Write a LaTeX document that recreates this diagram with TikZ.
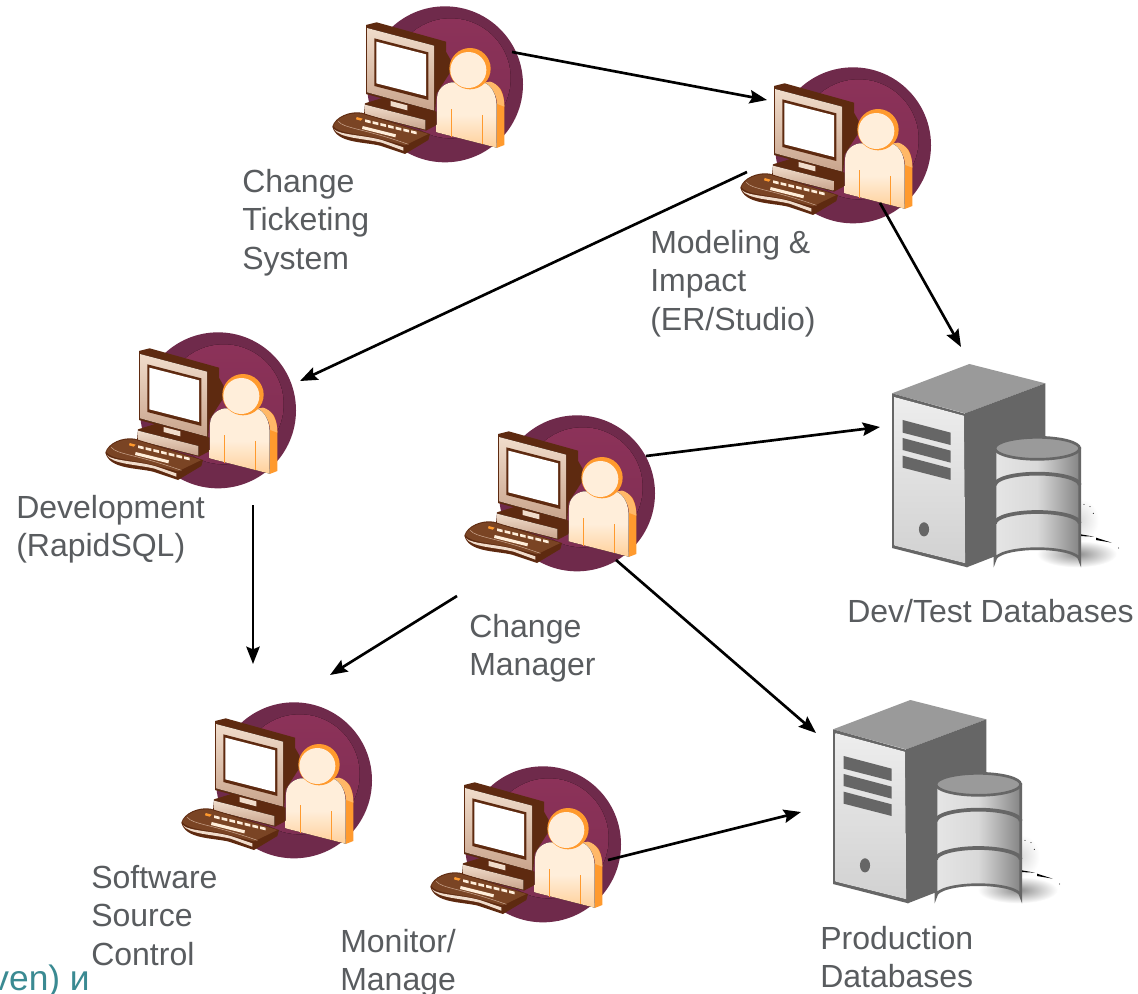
\documentclass[tikz,border=0pt]{standalone}
\usepackage{fontspec}
\setmainfont{Liberation Sans}
\usetikzlibrary{arrows.meta}
\definecolor{plumD}{HTML}{6F2A4B}
\definecolor{plumL}{HTML}{8C3259}
\definecolor{brownD}{HTML}{5E2A10}
\definecolor{brownM}{HTML}{7A4424}
\definecolor{tanL}{HTML}{F0DCCB}
\definecolor{tanM}{HTML}{C9A48C}
\definecolor{orgD}{HTML}{FF9A2E}
\definecolor{orgL}{HTML}{FFB868}
\definecolor{creamA}{HTML}{FFEEDA}
\definecolor{creamB}{HTML}{FFD09A}
\definecolor{txtgray}{HTML}{595C5F}
\definecolor{tealt}{HTML}{3A8A92}
\definecolor{srvD}{HTML}{666666}
\definecolor{srvM}{HTML}{9A9A9A}
\tikzset{
  lbl/.style={anchor=north west,inner sep=0pt,align=left,text=txtgray,font=\fontsize{24}{28.9}\selectfont},
  conn/.style={line width=2pt,-{Stealth[length=13pt,width=10pt,inset=2pt]}},
  iconline/.style={line join=round}
}
\newcommand{\wkst}[1]{%
\begin{scope}[shift={#1},x=.25pt,y=-.25pt]
  \fill[plumD] (375,253) circle[radius=58.5pt];
  \fill[top color=plumL,bottom color=plumL!55!plumD] (392,235) circle[radius=45pt];
  % monitor
  \fill[brownD,iconline] (138,75) -- (170,67) -- (378,125) -- (378,155) -- (392,180) -- (392,215) -- (350,280) -- (345,338) -- (138,282) -- cycle;
  \fill[top color=tanL,bottom color=tanM,iconline] (141,84) -- (342,137) -- (342,332) -- (141,277) -- cycle;
  \fill[brownD] (163,115) -- (325,157) -- (325,300) -- (163,258) -- cycle;
  \fill[white] (169,125) -- (318,163) -- (318,288) -- (169,250) -- cycle;
  % base
  \fill[brownD,iconline] (135,310) -- (190,293) -- (350,335) -- (350,375) -- (318,392) -- (132,345) -- cycle;
  \fill[tanL] (212,303) -- (262,316) -- (262,331) -- (212,318) -- cycle;
  \fill[top color=tanL,bottom color=tanM] (135,314) -- (316,360) -- (316,389) -- (135,343) -- cycle;
  % keyboard
  \fill[brownD,iconline] (37,380) .. controls (45,350) and (90,332) .. (125,338) -- (330,402) -- (325,420) -- (255,462) -- (180,437) .. controls (130,425) and (50,430) .. (37,380) -- cycle;
  \fill[tanL,iconline] (42,388) .. controls (60,415) and (130,415) .. (185,428) -- (250,452) -- (250,442) -- (185,420) .. controls (130,405) and (60,405) .. (42,388) -- cycle;
  \fill[brownM,iconline] (40,378) .. controls (50,352) and (90,336) .. (125,341) -- (325,402) -- (255,436) -- (185,418) .. controls (130,402) and (55,402) .. (40,378) -- cycle;
  \draw[tanM,line width=.4pt] (55,364) .. controls (70,385) and (130,385) .. (265,433);
  \fill[orgD] (110,351) -- (128,356) -- (122,362) -- (108,358) -- cycle;
  \foreach \i in {0,1,2,3,4,5,6} {
    \fill[creamA] ({135+\i*23},{358+\i*5.5}) -- ++(17,4) -- ++(0,8) -- ++(-17,-4) -- cycle;
  }
  \fill[creamA] (128,378) -- (228,403) -- (226,412) -- (126,387) -- cycle;
  % person
  \fill[orgD,iconline] (530,255) .. controls (545,265) and (553,290) .. (553,320) -- (553,435) -- (530,444) -- cycle;
  \fill[orgL,iconline] (510,245) .. controls (535,250) and (553,280) .. (553,320) -- (532,312) .. controls (530,285) and (515,260) .. (490,248) -- cycle;
  \fill[top color=creamA,bottom color=creamB,middle color=creamA,iconline] (351,295) .. controls (352,265) and (375,250) .. (395,247) -- (490,247) .. controls (515,255) and (530,285) .. (530,320) -- (530,443) -- (350,397) -- cycle;
  \draw[orgD,line width=1.2pt] (395,328) -- (395,410) (487,345) -- (487,432);
  \fill[orgD] (450,206) circle[radius=15.5pt];
  \fill[creamA] (445,210) circle[radius=13.5pt];
\end{scope}}
\newcommand{\srv}[1]{%
\begin{scope}[shift={#1},x=.25pt,y=-.25pt]
  % shadow
  \shade[inner color=black!45,outer color=white] (590,612) ellipse[x radius=30pt,y radius=10pt];
  \shade[inner color=black!14,outer color=white] (600,510) ellipse[x radius=14pt,y radius=16pt];
  \fill[black] (597,552) -- (642,560) -- (597,558) -- cycle;
  \fill[black] (648,563) -- (695,578) -- (648,570) -- cycle;
  \fill[black] (612,463) circle[radius=.4pt] (630,470) circle[radius=.4pt] (640,490) circle[radius=.4pt] (716,594) circle[radius=.4pt];
  \fill[black] (345,582) -- (330,606) -- (345,600) -- cycle;
  % tower
  \fill[srvM,iconline] (36,130) -- (268,42) -- (496,100) -- (255,190) -- cycle;
  \fill[srvD,iconline] (255,190) -- (496,100) -- (496,560) -- (260,652) -- cycle;
  \fill[srvD,iconline] (36,130) -- (258,192) -- (262,652) -- (36,594) -- cycle;
  \fill[top color=white!93!black,bottom color=white!82!black] (43,141) -- (252,197) -- (256,640) -- (43,587) -- cycle;
  \fill[srvD] (68,210) -- (212,248) -- (212,285) -- (68,248) -- cycle;
  \fill[srvD] (68,264) -- (212,302) -- (212,338) -- (68,300) -- cycle;
  \fill[srvD] (68,317) -- (212,355) -- (212,390) -- (68,353) -- cycle;
  \fill[srvD] (132,538) ellipse[x radius=3.8pt,y radius=5.3pt];
  % barrel
  \draw[srvD,line width=2pt,left color=white!90!black,right color=white!52!black,middle color=white!85!black]
     (345,295) -- (345,630) arc[start angle=180,end angle=360,x radius=127,y radius=34] -- (599,295) -- cycle;
  \draw[srvD,line width=2pt,fill=srvM] (472,295) ellipse[x radius=127,y radius=33];
  \draw[srvD,line width=2.8pt] (345,405) arc[start angle=180,end angle=360,x radius=127,y radius=34];
  \draw[srvD,line width=2.8pt] (345,520) arc[start angle=180,end angle=360,x radius=127,y radius=34];
\end{scope}}
\begin{document}
\begin{tikzpicture}[x=.75pt,y=-.75pt]
\useasboundingbox (0,0) rectangle (1138,994);
\fill[white] (0,0) rectangle (1138,994);
\wkst{(320,0)}
\wkst{(728,61)}
\wkst{(93,326)}
\wkst{(452,409)}
\wkst{(169,696)}
\wkst{(418,760)}
\srv{(880,350)}
\srv{(821,686)}
\node[lbl] (ticket) at (242,169) {Change\\Ticketing\\System};
\node[lbl] (model) at (650,230) {Modeling \&\\Impact\\(ER/Studio)};
\node[lbl] (dev) at (16,495) {Development\\(RapidSQL)};
\node[lbl] (mgr) at (469,614) {Change\\Manager};
\node[lbl] (devdb) at (847,599) {Dev/Test Databases};
\node[lbl] (ssc) at (91,865) {Software\\Source\\Control};
\node[lbl] (mon) at (340,929) {Monitor/\\Manage};
\node[lbl] (proddb) at (820,926) {Production\\Databases};
\node[anchor=base east,inner sep=0pt,text=tealt,font=\fontsize{26.5}{30}\selectfont] (frag) at (90,990) {ven) и};
\coordinate (a1) at (512,52);   \coordinate (b1) at (767,100);
\coordinate (a2) at (747,172);  \coordinate (b2) at (300,381);
\coordinate (a3) at (880,203);  \coordinate (b3) at (961,347);
\coordinate (a4) at (253,505);  \coordinate (b4) at (253,664);
\coordinate (a5) at (646,456);  \coordinate (b5) at (880,427);
\coordinate (a6) at (457,596);  \coordinate (b6) at (330,675);
\coordinate (a7) at (616,560);  \coordinate (b7) at (816,733);
\coordinate (a8) at (608,860);  \coordinate (b8) at (801,812);
\draw[conn] (a1) -- (b1);
\draw[conn] (a2) -- (b2);
\draw[conn] (a3) -- (b3);
\draw[conn] (a4) -- (b4);
\draw[conn] (a5) -- (b5);
\draw[conn] (a6) -- (b6);
\draw[conn] (a7) -- (b7);
\draw[conn] (a8) -- (b8);
\end{tikzpicture}
\end{document}
